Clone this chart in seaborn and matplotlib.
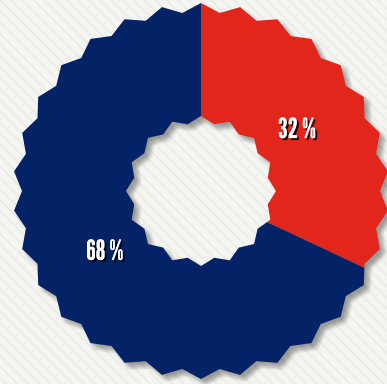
import numpy as np
import matplotlib
matplotlib.use("Agg")
import matplotlib.pyplot as plt
import seaborn as sns
from matplotlib.path import Path
from matplotlib.patches import PathPatch, Wedge, Rectangle
from matplotlib.transforms import Affine2D
import matplotlib.patheffects as pe

# ---- data ----
categories = ["Part A", "Part B"]
values = [32, 68]
label_texts = ["32 %", "68 %"]
colors = sns.color_palette(["#e2261c", "#042266"])

sns.set_theme(style="white")
plt.rcParams['font.family'] = ['League Gothic', 'Bebas Neue', 'DejaVu Sans']

W, H = 387, 384
fig = plt.figure(figsize=(W / 100, H / 100), dpi=100)
fig.patch.set_facecolor('#f4f4f1')
ax = fig.add_axes([0, 0, 1, 1])
R = 188.0
ax.set_xlim(-201 / R, (W - 201) / R)
ax.set_ylim(-(H - 191) / R, 191 / R)
ax.axis('off')

# background texture (subtle diagonal canvas stripes)
ax.add_patch(Rectangle((-2, -2), 4, 4, facecolor='#f4f4f1', edgecolor='#e9e9e5',
                       linewidth=0, hatch='\\\\\\', zorder=0))


def star(n, r_tip, r_val, start=90.0):
    k = np.arange(2 * n)
    ang = np.deg2rad(start + k * 180.0 / n)
    rad = np.where(k % 2 == 0, r_tip, r_val)
    return np.column_stack([rad * np.cos(ang), rad * np.sin(ang)])


outer = star(30, 1.0, 0.952)
inner = star(16, 0.399, 0.362)[::-1]
verts = np.vstack([outer, outer[:1], inner, inner[:1]])
codes = ([Path.MOVETO] + [Path.LINETO] * (len(outer) - 1) + [Path.CLOSEPOLY] +
         [Path.MOVETO] + [Path.LINETO] * (len(inner) - 1) + [Path.CLOSEPOLY])
donut = Path(verts, codes)

# soft drop shadow
offs = np.linspace(1.5, 7.5, 5) / R
for dx in offs:
    for dy in offs:
        ax.add_patch(PathPatch(donut, facecolor='black', edgecolor='none', alpha=0.017,
                               transform=Affine2D().translate(dx, -dy) + ax.transData,
                               zorder=1))

# slices clockwise from top
total = float(sum(values))
cum = np.concatenate([[0], np.cumsum(values)]) / total
for i, v in enumerate(values):
    t1 = 90 - 360 * cum[i + 1]
    t2 = 90 - 360 * cum[i]
    w = Wedge((0, 0), 1.2, t1, t2, facecolor=colors[i], edgecolor='none', zorder=2)
    ax.add_patch(w)
    w.set_clip_path(donut, ax.transData)
    mid = np.deg2rad((t1 + t2) / 2)
    rl = 0.605
    ax.text(rl * np.cos(mid), rl * np.sin(mid), label_texts[i], color='white',
            fontsize=20, ha='center', va='center', zorder=3,
            path_effects=[pe.withSimplePatchShadow(offset=(1.5, -1.5),
                                                   shadow_rgbFace='black', alpha=0.85),
                          pe.Normal()])

fig.savefig('out.png', dpi=100, facecolor=fig.get_facecolor())
